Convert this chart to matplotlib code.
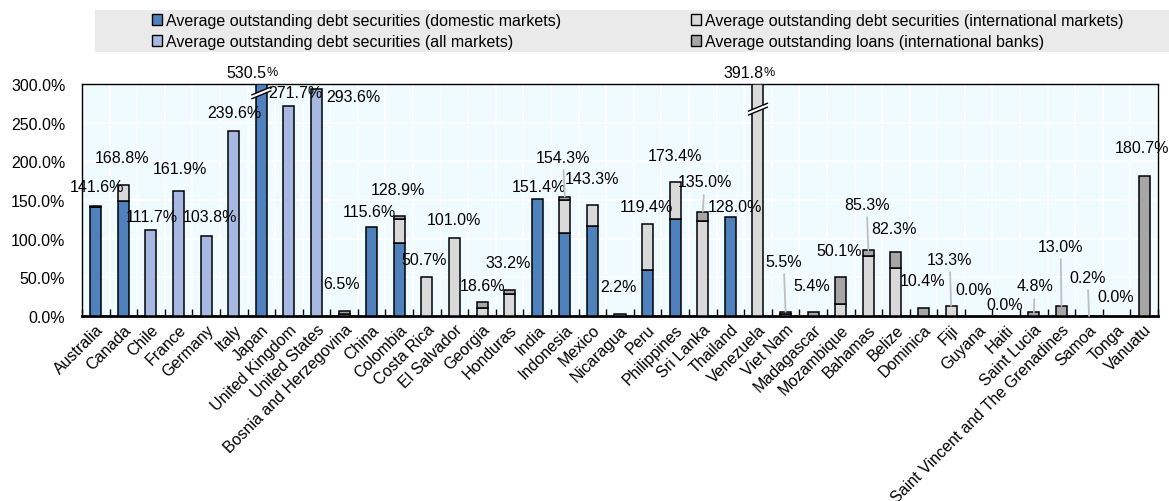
import numpy as np
import matplotlib
matplotlib.use("Agg")
import matplotlib.pyplot as plt
from matplotlib.patches import Patch, Rectangle, Polygon

plt.rcParams['font.family'] = ['Liberation Sans Narrow', 'Liberation Sans', 'DejaVu Sans']
FS = 11.5

countries = ["Australia", "Canada", "Chile", "France", "Germany", "Italy", "Japan",
             "United Kingdom", "United States", "Bosnia and Herzegovina", "China",
             "Colombia", "Costa Rica", "El Salvador", "Georgia", "Honduras", "India",
             "Indonesia", "Mexico", "Nicaragua", "Peru", "Philippines", "Sri Lanka",
             "Thailand", "Venezuela", "Viet Nam", "Madagascar", "Mozambique", "Bahamas",
             "Belize", "Dominica", "Fiji", "Guyana", "Haiti", "Saint Lucia",
             "Saint Vincent and The Grenadines", "Samoa", "Tonga", "Vanuatu"]

# % values
domestic = [140.6, 149.0, 0, 0, 0, 0, 530.5, 0, 0, 0, 115.6, 94.4, 0, 0, 0, 0, 151.4,
            107.3, 116.8, 0, 59.9, 125.4, 0, 128.0, 0, 0, 0, 0, 0, 0, 0, 0, 0, 0, 0,
            0, 0, 0, 0]
all_markets = [0, 0, 111.7, 161.9, 103.8, 239.6, 0, 271.7, 293.6, 0, 0, 0, 0, 0, 0, 0,
               0, 0, 0, 0, 0, 0, 0, 0, 0, 0, 0, 0, 0, 0, 0, 0, 0, 0, 0, 0, 0, 0, 0]
international = [0, 19.8, 0, 0, 0, 0, 0, 0, 0, 3.0, 0, 31.0, 50.7, 101.0, 9.9, 28.4, 0,
                 43.1, 26.5, 0, 59.5, 48.0, 123.3, 0, 391.8, 2.5, 0, 15.1, 77.2, 61.7,
                 0, 13.3, 0, 0, 0, 0, 0, 0, 0]
loans = [1.0, 0, 0, 0, 0, 0, 0, 0, 0, 3.5, 0, 3.5, 0, 0, 8.7, 4.8, 0, 3.9, 0, 2.2, 0, 0,
         11.7, 0, 0, 3.0, 5.4, 35.0, 8.1, 20.6, 10.4, 0, 0, 0, 4.8, 13.0, 0.2, 0, 180.7]

series_names = ["Average outstanding debt securities (domestic markets)",
                "Average outstanding debt securities (all markets)",
                "Average outstanding debt securities (international markets)",
                "Average outstanding loans (international banks)"]
colors = ["#4F81BD", "#A7B9E3", "#D9D9D9", "#A6A6A6"]

# where each total label sits (x in bar units, y in %)
label_pos = [(0.04, 168.1), (0.95, 205.6), (2.04, 129.3), (3.05, 190.1), (4.14, 129.3),
             (5.01, 262.5), (5.97, 315.5), (7.22, 288.4), (9.32, 283.2), (8.92, 41.4),
             (9.90, 134.5), (10.95, 164.2), (11.89, 73.7), (12.98, 125.4), (14.03, 38.8),
             (14.93, 69.8), (16.06, 168.1), (16.93, 205.6), (17.98, 177.2), (18.96, 37.5),
             (19.97, 141.0), (20.99, 206.9), (22.07, 173.3), (23.16, 142.2), (24.0, 315.5),
             (24.93, 71.1), (25.95, 38.8), (26.93, 84.1), (27.94, 144.8), (28.92, 112.5),
             (29.97, 45.3), (30.95, 73.7), (31.82, 34.9), (32.94, 15.5), (34.03, 38.8),
             (34.97, 90.5), (35.95, 50.4), (36.96, 24.6), (37.91, 218.5)]
leader = ["Indonesia", "Sri Lanka", "Viet Nam", "Bahamas", "Fiji", "Saint Lucia",
          "Saint Vincent and The Grenadines", "Samoa"]

YMAX = 300
x = np.arange(len(countries))
series = [np.array(domestic), np.array(all_markets), np.array(international), np.array(loans)]
totals = sum(series)

fig = plt.figure(figsize=(11.69, 5.02), dpi=100)
ax = fig.add_axes([82 / 1169, 1 - 317 / 502, 1076 / 1169, 232 / 502])
ax.set_facecolor("#F0FBFF")

bottom = np.zeros(len(x))
for vals, col in zip(series, colors):
    top = np.minimum(bottom + vals, YMAX)
    h = top - np.minimum(bottom, YMAX)
    mask = vals > 0
    ax.bar(x[mask], h[mask], 0.4, bottom=np.minimum(bottom, YMAX)[mask], color=col,
           edgecolor="black", linewidth=1.1, zorder=3)
    bottom = bottom + vals

# axis break marks on the bars taller than the scale
for i in np.where(totals > YMAX)[0]:
    yb = 287 if countries[i] == "Japan" else 266
    ax.add_patch(Polygon([(i - 0.34, yb - 6), (i + 0.34, yb + 4), (i + 0.34, yb + 9),
                          (i - 0.34, yb - 1)], closed=True, facecolor="white",
                         edgecolor="none", zorder=4))
    ax.plot([i - 0.34, i + 0.34], [yb - 6, yb + 4], color="black", lw=1, zorder=5)
    ax.plot([i - 0.34, i + 0.34], [yb - 1, yb + 9], color="black", lw=1, zorder=5)

for i, (lx, ly) in enumerate(label_pos):
    txt = f"{totals[i]:.1f}%"
    if countries[i] in leader:
        ax.annotate(txt, xy=(i, min(totals[i], YMAX)), xytext=(lx, ly),
                    ha="center", va="center", fontsize=FS, annotation_clip=False,
                    arrowprops=dict(arrowstyle="-", color="#BFBFBF", lw=1.3,
                                    shrinkA=2, shrinkB=0), zorder=6)
    elif totals[i] > YMAX:
        # out-of-scale values: smaller percent sign
        t = ax.text(lx + 0.2, ly, f"{totals[i]:.1f}", ha="right", va="center",
                    fontsize=FS, zorder=6, clip_on=False)
        ax.annotate("%", xy=(1, 0.12), xycoords=t, ha="left", va="bottom",
                    fontsize=FS - 2.5, annotation_clip=False)
    else:
        ax.text(lx, ly, txt, ha="center", va="center", fontsize=FS, zorder=6,
                clip_on=False)

ax.set_xlim(-0.5, len(x) - 0.5)
ax.set_ylim(0, YMAX)
ax.set_yticks(np.arange(0, 301, 50))
ax.set_yticklabels([f"{v:.1f}%" for v in np.arange(0, 301, 50)], fontsize=FS)
ax.set_xticks(x)
ax.set_xticklabels(countries, rotation=45, ha="right", rotation_mode="anchor", fontsize=FS)
ax.set_xticks(np.arange(-0.5, len(x)), minor=True)
ax.tick_params(axis="x", which="major", length=0, pad=4)
ax.tick_params(axis="x", which="minor", direction="in", length=5, width=1)
ax.tick_params(axis="y", length=0, pad=12)
ax.grid(True, which="minor", axis="x", color="white", lw=1.2, zorder=0)
ax.grid(True, which="major", axis="y", color="white", lw=1.2, zorder=0)
ax.set_axisbelow(True)
for s in ax.spines.values():
    s.set_linewidth(1.0)
ax.spines["bottom"].set_linewidth(2.0)

# legend panel
fig.patches.append(Rectangle((95 / 1169, 1 - 53 / 502), 1074 / 1169, 42 / 502,
                             transform=fig.transFigure, facecolor="#EAEAEA",
                             edgecolor="none", zorder=0))
handles = [Patch(facecolor=c, edgecolor="black", linewidth=1) for c in colors]
kw = dict(frameon=False, fontsize=FS, handlelength=0.65, handleheight=0.65,
          handletextpad=0.25, labelspacing=0.4, borderpad=0, borderaxespad=0,
          loc="upper left")
fig.legend([handles[0], handles[1]], [series_names[0], series_names[1]],
           bbox_to_anchor=(152 / 1169, 1 - 14 / 502), **kw)
fig.legend([handles[2], handles[3]], [series_names[2], series_names[3]],
           bbox_to_anchor=(691 / 1169, 1 - 14 / 502), **kw)

fig.savefig("out.png", dpi=100)
